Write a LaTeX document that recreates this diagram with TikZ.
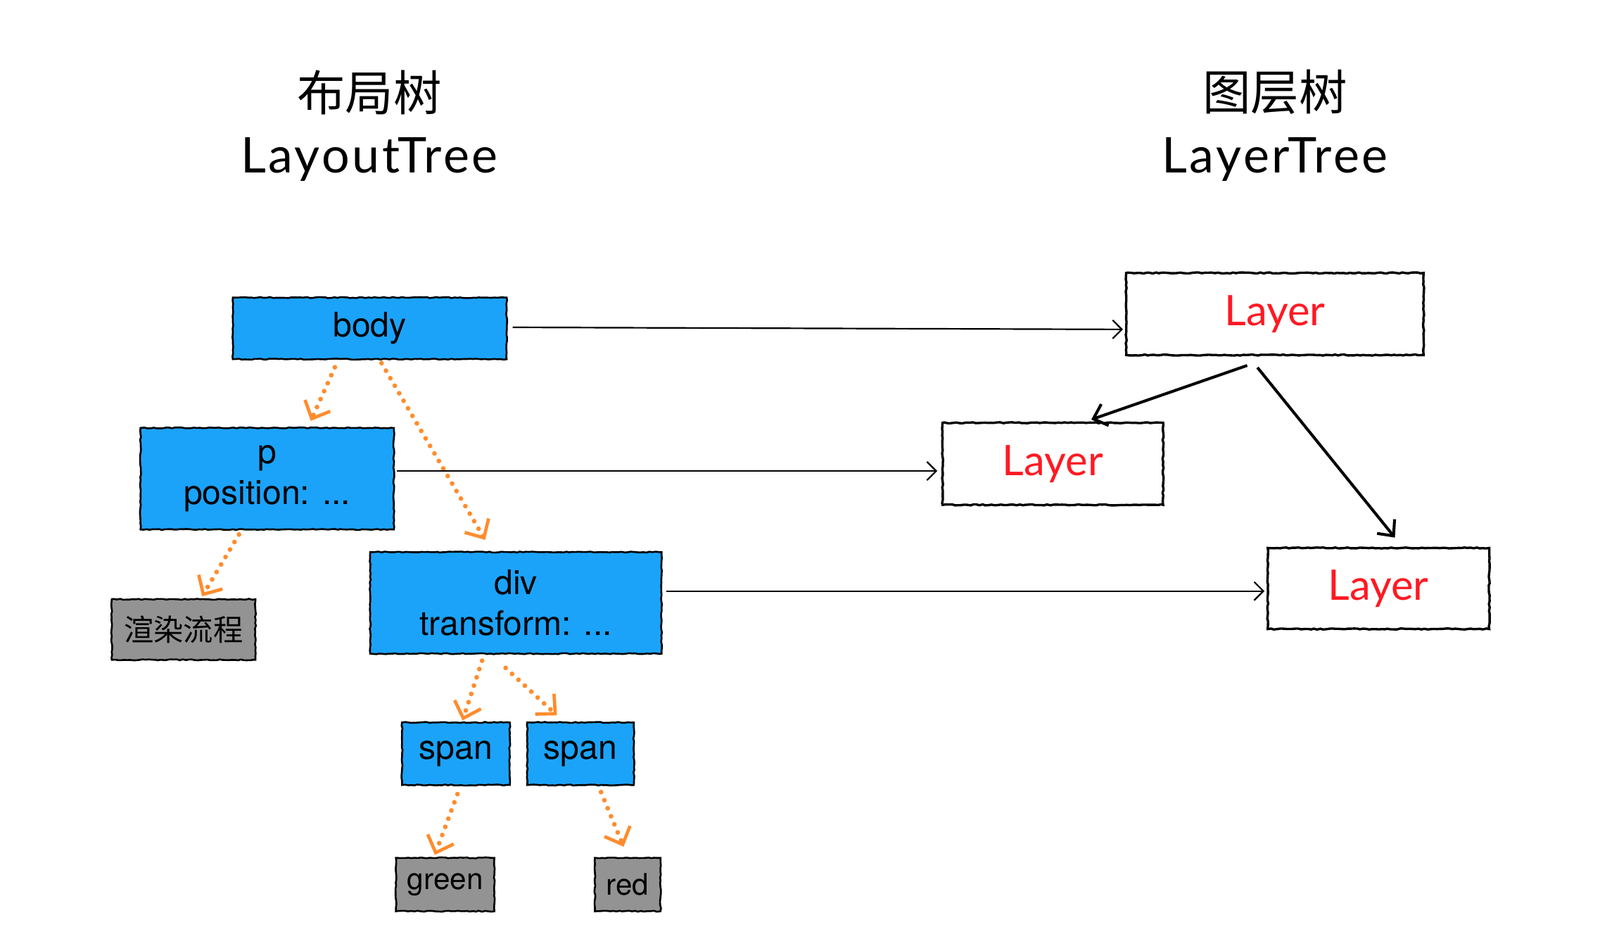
\documentclass[tikz,border=0pt]{standalone}
\usepackage{fontspec}
\setmainfont{TeX Gyre Heros}
\newfontfamily\cjk{Noto Sans CJK SC}
\newfontfamily\hand{Lato}
\newfontfamily\handwide[LetterSpace=5]{Lato}
\usetikzlibrary{arrows.meta,calc,decorations.pathmorphing}
\definecolor{boxblue}{RGB}{27,163,250}
\definecolor{boxgray}{RGB}{147,147,147}
\definecolor{dotorange}{RGB}{255,140,45}
\definecolor{layerred}{RGB}{255,25,35}
\tikzset{
  sketch/.style={decorate,decoration={random steps,segment length=3pt,amplitude=0.5pt}},
  bluebox/.style={draw=black,line width=1.8pt,fill=boxblue,inner sep=0pt,align=center,sketch,
    font=\fontsize{33}{40}\selectfont},
  graybox/.style={draw=black,line width=1.8pt,fill=boxgray,inner sep=0pt,align=center,sketch,
    font=\fontsize{29}{34}\selectfont},
  layerbox/.style={draw=black,line width=2.3pt,fill=white,inner sep=0pt,sketch,
    text=layerred,font=\hand\fontsize{41}{44}\selectfont},
  treearrow/.style={dotorange,line width=4.6pt,line cap=round,dash pattern=on 0pt off 8.5pt,
    -{Straight Barb[length=14pt,width=27pt,line width=3.2pt]}},
  maparrow/.style={black,line width=1.5pt,-{Straight Barb[length=9pt,width=18pt,line width=1.5pt]}},
  layerarrow/.style={black,line width=2.8pt,-{Straight Barb[length=12pt,width=22pt,line width=2.8pt]}},
  titlecn/.style={font=\cjk\fontsize{47}{50}\selectfont},
  titleen/.style={font=\handwide\fontsize{48}{52}\selectfont},
}
\begin{document}
\begin{tikzpicture}[x=1pt,y=-1pt]
\useasboundingbox[fill=white] (0,0) rectangle (1560,919.3);
% titles
\node[titlecn] (t1) at (360,90) {布局树};
\node[titleen] (t2) at (360,155) {LayoutTree};
\node[titlecn] (t3) at (1243,90) {图层树};
\node[titleen] (t4) at (1243,155) {LayerTree};
% layout tree
\node[bluebox,minimum width=267pt,minimum height=60pt] (body) at (360.5,320) {body};
\node[bluebox,minimum width=247pt,minimum height=99pt] (p) at (260.5,466.5) {p\\position: ...};
\node[graybox,minimum width=140pt,minimum height=59pt] (render) at (179,613.5) {\cjk 渲染流程};
\node[bluebox,minimum width=284pt,minimum height=99pt] (div) at (503,587.5) {div\\transform: ...};
\node[bluebox,minimum width=105pt,minimum height=61pt] (span1) at (444.5,734.5) {span};
\node[bluebox,minimum width=104pt,minimum height=61pt] (span2) at (566,734.5) {span};
\node[graybox,minimum width=96pt,minimum height=52pt] (green) at (434,862) {green};
\node[graybox,minimum width=64pt,minimum height=52pt] (red) at (612,862) {red};
% layer tree
\node[layerbox,minimum width=290pt,minimum height=80pt] (L1) at (1243,306) {Layer};
\node[layerbox,minimum width=215pt,minimum height=80pt] (L2) at (1026.5,452) {Layer};
\node[layerbox,minimum width=216pt,minimum height=79pt] (L3) at (1344,573.5) {Layer};
% layout tree edges
\draw[treearrow] ($(body.south)+(-34,7)$) -- ($(p.north)+(42.5,-6)$);
\draw[treearrow] ($(body.south)+(11.5,3)$) -- ($(div.north)+(-30,-11)$);
\draw[treearrow] ($(p.south)+(-27.5,4)$) -- ($(render.north)+(18,-2)$);
\draw[treearrow] ($(div.south)+(-33,6)$) -- ($(span1.north)+(6.5,-1)$);
\draw[treearrow] ($(div.south)+(-10,13)$) -- ($(span2.north)+(-23,-6)$);
\draw[treearrow] ($(span1.south)+(1.5,8)$) -- ($(green.north)+(-10,-2)$);
\draw[treearrow] ($(span2.south)+(20,6)$) -- ($(red.north)+(-4,-10)$);
% mapping edges
\draw[maparrow] ($(body.east)+(5,-1)$) -- ($(L1.west)+(-2,15)$);
\draw[maparrow] ($(p.east)+(2,-7.5)$) -- ($(L2.west)+(-4,7)$);
\draw[maparrow] ($(div.east)+(4,-11.5)$) -- ($(L3.west)+(-2,2.5)$);
% layer tree edges
\draw[layerarrow] ($(L1.south)+(-27,9)$) -- ($(L2.north)+(37.5,-2)$);
\draw[layerarrow] ($(L1.south)+(-17,11)$) -- ($(L3.north)+(16,-9)$);
\end{tikzpicture}
\end{document}
